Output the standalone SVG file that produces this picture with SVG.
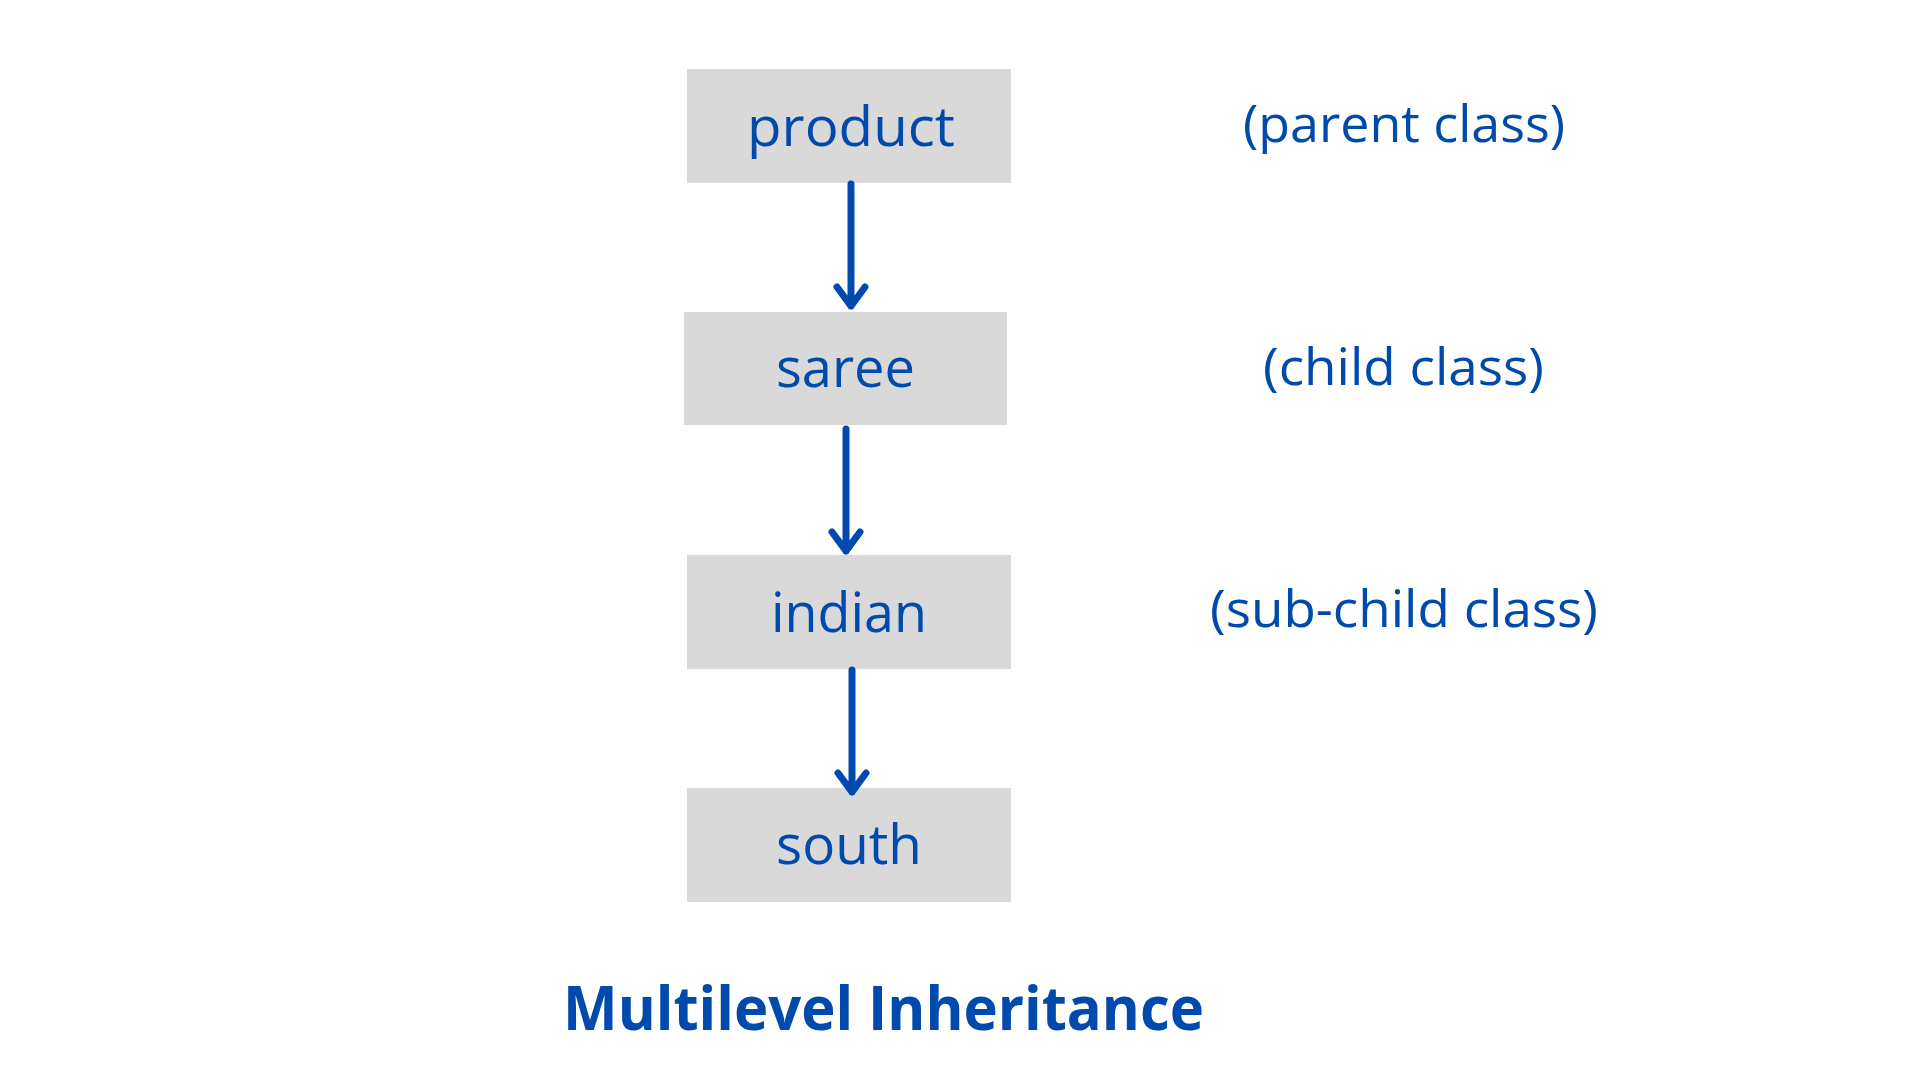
<svg xmlns="http://www.w3.org/2000/svg" width="1920" height="1080" viewBox="0 0 1920 1080">
  <style>
    .box { fill: #d9d9d9; }
    .lbl { font-family: "Open Sans", "Noto Sans", "Liberation Sans", sans-serif; fill: #004aad; text-anchor: middle; }
    .node { font-size: 54px; }
    .side { font-size: 52px; }
    .title { font-size: 60px; font-weight: 700; }
    .conn { fill: none; stroke: #004aad; stroke-width: 7; stroke-linecap: round; stroke-linejoin: round; }
  </style>
  <rect x="0" y="0" width="1920" height="1080" fill="#ffffff"/>

  <g id="node-product">
    <rect class="box" x="687" y="69" width="324" height="114"/>
    <text class="lbl node" x="851" y="146" textLength="208" lengthAdjust="spacingAndGlyphs">product</text>
  </g>
  <g id="node-saree">
    <rect class="box" x="684" y="312" width="323" height="113"/>
    <text class="lbl node" x="845.5" y="387" textLength="139" lengthAdjust="spacingAndGlyphs">saree</text>
  </g>
  <g id="node-indian">
    <rect class="box" x="687" y="555" width="324" height="114"/>
    <text class="lbl node" x="849" y="632" textLength="156" lengthAdjust="spacingAndGlyphs">indian</text>
  </g>
  <g id="node-south">
    <rect class="box" x="687" y="788" width="324" height="114"/>
    <text class="lbl node" x="849" y="864" textLength="146" lengthAdjust="spacingAndGlyphs">south</text>
  </g>

  <g id="connectors">
    <path class="conn" d="M851,184 L851,306 M837,287 L851,306 L865,287"/>
    <path class="conn" d="M846,429 L846,551 M832,532 L846,551 L860,532"/>
    <path class="conn" d="M852,670 L852,792 M838,773 L852,792 L866,773"/>
  </g>

  <g id="label-parent">
    <text class="lbl side" x="1404" y="142" textLength="322" lengthAdjust="spacingAndGlyphs">(parent class)</text>
  </g>
  <g id="label-child">
    <text class="lbl side" x="1403.5" y="385" textLength="281" lengthAdjust="spacingAndGlyphs">(child class)</text>
  </g>
  <g id="label-subchild">
    <text class="lbl side" x="1404" y="627" textLength="388" lengthAdjust="spacingAndGlyphs">(sub-child class)</text>
  </g>

  <g id="title">
    <text class="lbl title" x="883.5" y="1030" textLength="641" lengthAdjust="spacingAndGlyphs">Multilevel Inheritance</text>
  </g>
</svg>
